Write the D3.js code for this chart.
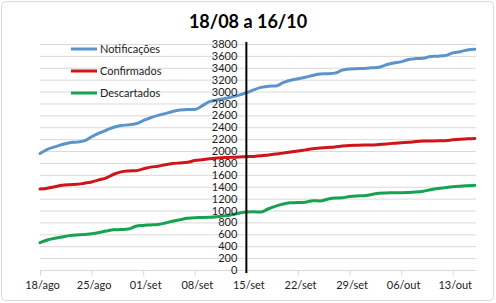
<!DOCTYPE html>
<html><head><meta charset="utf-8">
<script src="https://cdn.jsdelivr.net/npm/d3@7"></script>
<style>body{margin:0;background:#fff}svg{display:block}</style>
</head><body>
<svg id="c" width="496" height="303"></svg>
<script>
const title = "18/08 a 16/10";
const seriesNames = ["Notificações", "Confirmados", "Descartados"];
const seriesColors = ["#5b94cb", "#d01418", "#17a251"];
const xTickLabels = ["18/ago","25/ago","01/set","08/set","15/set","22/set","29/set","06/out","13/out"];
const yTicks = d3.range(0, 3801, 200);
const notificacoes = [1960,2030,2070,2110,2140,2150,2170,2240,2300,2350,2400,2430,2440,2460,2510,2560,2600,2630,2665,2690,2700,2700,2760,2830,2860,2880,2910,2940,2980,3030,3070,3090,3095,3150,3190,3215,3240,3270,3295,3300,3310,3360,3380,3385,3390,3400,3410,3450,3480,3500,3540,3555,3560,3590,3595,3605,3650,3670,3700,3710];
const confirmados = [1360,1375,1400,1425,1435,1440,1460,1480,1515,1550,1610,1650,1665,1670,1700,1730,1745,1770,1790,1800,1810,1840,1855,1870,1885,1890,1895,1900,1905,1910,1920,1935,1950,1965,1985,2000,2020,2040,2050,2060,2070,2085,2095,2098,2100,2100,2110,2120,2130,2140,2148,2160,2168,2170,2172,2175,2190,2200,2205,2210];
const descartados = [460,505,535,555,578,590,595,610,630,655,675,680,690,735,750,757,765,790,820,845,870,880,882,885,895,910,930,955,975,978,975,1030,1075,1110,1132,1133,1140,1165,1162,1190,1210,1215,1235,1245,1250,1270,1290,1295,1300,1300,1302,1310,1325,1350,1370,1385,1400,1410,1418,1425];
const series = [notificacoes, confirmados, descartados];

const svg = d3.select("#c");
const font = "Lato, 'Open Sans', sans-serif";
const L = 40, R = 476, T = 44, B = 270;
const nDays = notificacoes.length;
const x = d3.scaleLinear().domain([0, nDays - 1]).range([L, L + 59 * 7.37]);
const y = d3.scaleLinear().domain([0, 3800]).range([B, T]);

// border
svg.append("rect").attr("x",1.5).attr("y",1.5).attr("width",492).attr("height",299)
  .attr("rx",4).attr("fill","#fff").attr("stroke","#d9d9d9");

// title
svg.append("text").attr("x",248).attr("y",28).attr("text-anchor","middle")
  .attr("font-family",font).attr("font-weight","bold").attr("font-size",18).attr("fill","#000").text(title);

// gridlines
svg.append("g").selectAll("line").data(yTicks).join("line")
  .attr("x1",L).attr("x2",R).attr("y1",d=>y(d)+0.5).attr("y2",d=>y(d)+0.5)
  .attr("stroke","#d9d9d9").attr("stroke-width",1);

// x axis
const xTickVals = xTickLabels.map((_, i) => i * 7);
const xAxis = d3.axisBottom(x).tickValues(xTickVals).tickFormat((d, i) => xTickLabels[i]).tickSize(5).tickPadding(6);
const gx = svg.append("g").attr("transform",`translate(0,${B+0.5})`).call(xAxis);
gx.select(".domain").remove();
gx.selectAll(".tick line").attr("stroke","#d9d9d9");
gx.selectAll(".tick text").attr("font-family",font).attr("font-size",11).attr("fill","#222").attr("dx",2);

// lines
const line = d3.line().x((d,i)=>x(i)).y(d=>y(d)).curve(d3.curveMonotoneX);
series.forEach((s, k) => {
  svg.append("path").datum(s).attr("d", line).attr("fill","none")
    .attr("stroke", seriesColors[k]).attr("stroke-width", 3).attr("stroke-linejoin","round").attr("stroke-linecap","round");
});

// y axis at 15/set
const ax = x(28);
const yAxis = d3.axisLeft(y).tickValues(yTicks).tickFormat(d3.format("d")).tickSize(0).tickPadding(9);
const gy = svg.append("g").attr("transform",`translate(${ax},0)`).call(yAxis);
gy.select(".domain").remove();
gy.selectAll(".tick text").attr("font-family",font).attr("font-size",11).attr("fill","#222");
svg.append("line").attr("x1",ax).attr("x2",ax).attr("y1",T-2).attr("y2",B+3)
  .attr("stroke","#000").attr("stroke-width",2);

// legend
const lg = svg.append("g");
seriesNames.forEach((n, k) => {
  const ly = 49 + k * 22;
  lg.append("line").attr("x1",71).attr("x2",97).attr("y1",ly).attr("y2",ly)
    .attr("stroke",seriesColors[k]).attr("stroke-width",3);
  lg.append("text").attr("x",100).attr("y",ly+4).attr("font-family",font).attr("font-size",11)
    .attr("fill","#222").text(n);
});
</script>
</body></html>
